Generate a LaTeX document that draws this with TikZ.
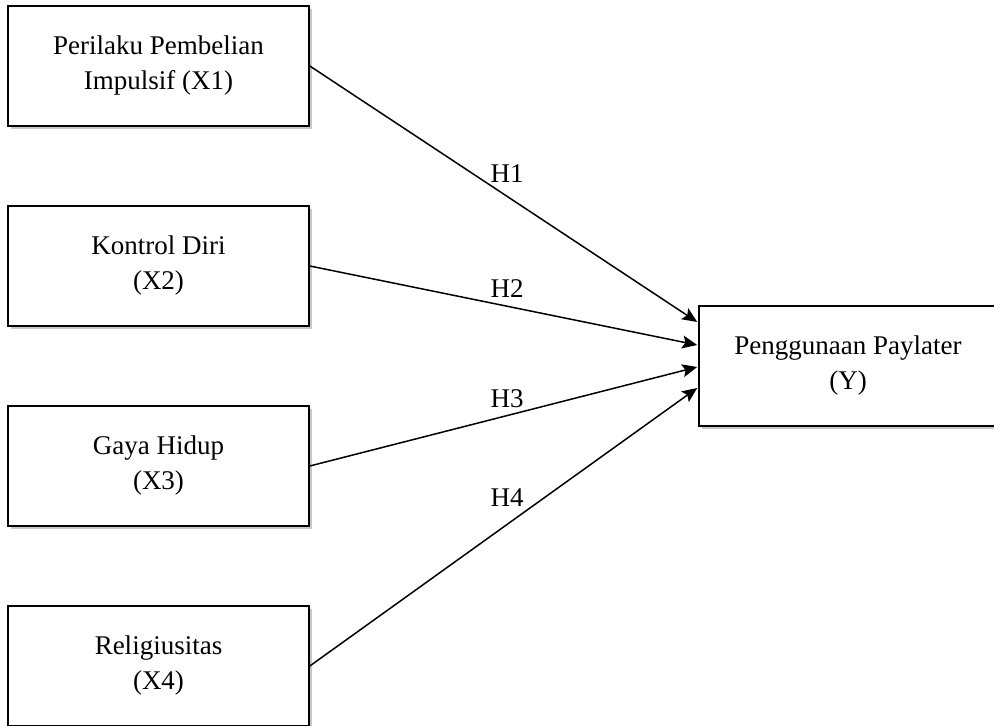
\documentclass[tikz,border=0pt]{standalone}
\usepackage{fontspec}
\setmainfont{Liberation Serif}
\usetikzlibrary{arrows.meta,calc,shadows}
\begin{document}
\begin{tikzpicture}[x=0.5pt,y=-0.5pt,
  varbox/.style={draw=black, line width=0.8pt, fill=white, minimum width=150.5pt, minimum height=60pt,
    align=center, inner sep=0pt, font=\fontsize{13.5}{17.5}\selectfont,
    drop shadow={shadow xshift=1.6pt, shadow yshift=-1.6pt, opacity=0.22, fill=black}},
  arr/.style={line width=0.75pt, -{Stealth[length=7.5pt,width=6.5pt,inset=1.5pt]}},
  hlabel/.style={inner sep=0pt, font=\fontsize{13.5}{16}\selectfont}]
\clip (0,0) rectangle (994,726);
\fill[white] (0,0) rectangle (994,726);
\node[varbox] (X1) at (158.5,66) {Perilaku Pembelian\\Impulsif (X1)};
\node[varbox] (X2) at (158.5,266) {Kontrol Diri\\(X2)};
\node[varbox] (X3) at (158.5,466) {Gaya Hidup\\(X3)};
\node[varbox] (X4) at (158.5,666) {Religiusitas\\(X4)};
\node[varbox, minimum width=149pt] (Y) at (848,366) {Penggunaan Paylater\\(Y)};
\draw[arr] (X1.east) -- ($(Y.west)+(-1,-44)$);
\draw[arr] (X2.east) -- ($(Y.west)+(-1,-21)$);
\draw[arr] (X3.east) -- ($(Y.west)+(-1,1)$);
\draw[arr] (X4.east) -- ($(Y.west)+(-1,22)$);
\node[hlabel] (H1) at (507,174) {H1};
\node[hlabel] (H2) at (507,289) {H2};
\node[hlabel] (H3) at (507,399) {H3};
\node[hlabel] (H4) at (507,498) {H4};
\end{tikzpicture}
\end{document}
